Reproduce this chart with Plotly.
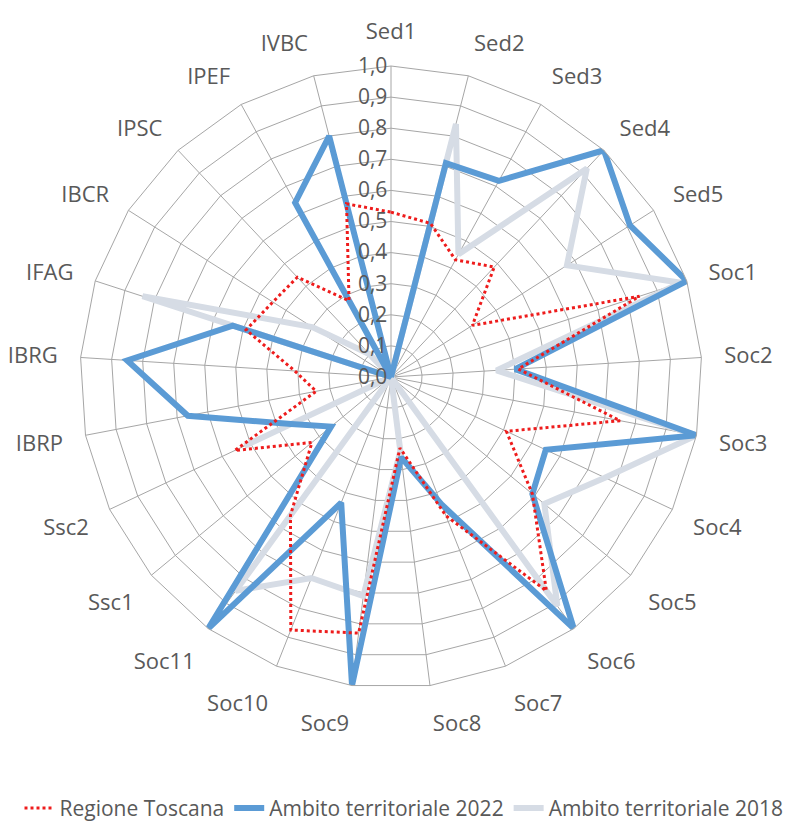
import plotly.graph_objects as go

categories = ["Sed1", "Sed2", "Sed3", "Sed4", "Sed5", "Soc1", "Soc2", "Soc3", "Soc4",
              "Soc5", "Soc6", "Soc7", "Soc8", "Soc9", "Soc10", "Soc11", "Ssc1", "Ssc2",
              "IBRP", "IBRG", "IFAG", "IBCR", "IPSC", "IPEF", "IVBC"]

regione_toscana = [0.53, 0.51, 0.43, 0.485, 0.31, 0.84, 0.41, 0.75, 0.41, 0.59, 0.85, 0.48,
                   0.23, 0.83, 0.875, 0.55, 0.33, 0.555, 0.245, 0.31, 0.49, 0.45, 0.44, 0.28, 0.575]

ambito_2022 = [0.0, 0.71, 0.72, 1.0, 0.91, 1.0, 0.40, 1.0, 0.55, 0.59, 1.0, 0.44,
               0.26, 1.0, 0.435, 1.0, 0.25, 0.355, 0.665, 0.85, 0.535, 0.0, 0.0, 0.64, 0.80]

ambito_2018 = [0.0, 0.84, 0.45, 0.92, 0.67, 0.98, 0.34, 1.0, 0.76, 0.64, 0.91, 0.0,
               0.24, 0.71, 0.695, 0.85, 0.0, 0.52, 0.0, 0.0, 0.84, 0.30, 0.10, 0.0, 0.0]

radial_ticks = [0.0, 0.1, 0.2, 0.3, 0.4, 0.5, 0.6, 0.7, 0.8, 0.9, 1.0]


def closed(vals):
    return list(vals) + [vals[0]]


theta = closed(categories)

fig = go.Figure()
fig.add_trace(go.Scatterpolar(
    r=closed(ambito_2018), theta=theta, mode="lines",
    name="Ambito territoriale 2018",
    line=dict(color="#D6DCE5", width=6), hoverinfo="skip"))
fig.add_trace(go.Scatterpolar(
    r=closed(ambito_2022), theta=theta, mode="lines",
    name="Ambito territoriale 2022",
    line=dict(color="#5B9BD5", width=6), hoverinfo="skip"))
fig.add_trace(go.Scatterpolar(
    r=closed(regione_toscana), theta=theta, mode="lines",
    name="Regione Toscana",
    line=dict(color="#EE1C1C", width=3, dash="dot"), hoverinfo="skip"))

grid_col = "#A6A6A6"
text_col = "#595959"

fig.update_layout(
    width=792, height=826,
    paper_bgcolor="white", plot_bgcolor="white",
    margin=dict(l=0, r=0, t=0, b=0),
    separators=",.",
    font=dict(family="Open Sans", size=22, color=text_col),
    showlegend=True,
    legend=dict(orientation="h", x=0.5, xanchor="center", y=0.031, yanchor="middle",
                traceorder="reversed", font=dict(size=21, color=text_col),
                itemwidth=30),
    polar=dict(
        domain=dict(x=[72 / 792, 694 / 792], y=[1 - 680 / 826, 1 - 58 / 826]),
        bgcolor="white",
        gridshape="linear",
        radialaxis=dict(
            range=[0, 1], tickvals=radial_ticks, tickformat=".1f",
            angle=90, tickangle=90, side="counterclockwise",
            showline=False, gridcolor=grid_col, gridwidth=1,
            ticks="", tickfont=dict(size=21, color=text_col),
        ),
        angularaxis=dict(
            categoryorder="array", categoryarray=categories,
            rotation=90, direction="clockwise",
            showline=True, linecolor=grid_col, linewidth=1,
            gridcolor=grid_col, gridwidth=1,
            ticks="outside", ticklen=18, tickcolor="rgba(0,0,0,0)",
            tickfont=dict(size=22, color=text_col),
        ),
    ),
)

fig.write_html("out.html")
